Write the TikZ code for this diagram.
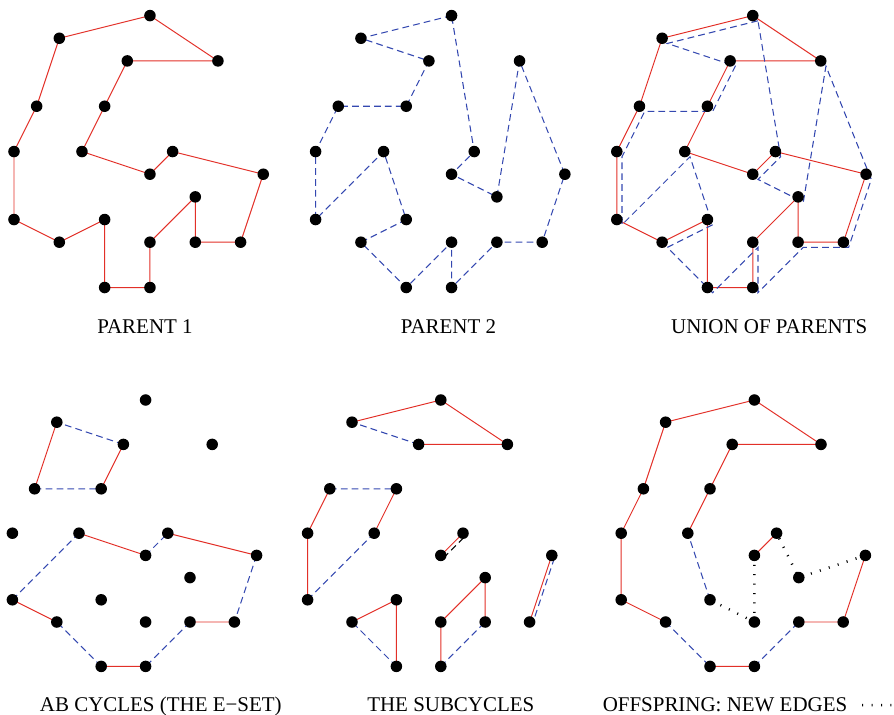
\documentclass[tikz,border=0pt]{standalone}
\usepackage{fontspec}
\setmainfont{Liberation Serif}
\usetikzlibrary{calc}
\def\point{4.1pt}
\definecolor{tourred}{RGB}{226,48,40}
\definecolor{tourblue}{RGB}{52,72,176}
\tikzset{
  parentA/.style={tourred, line width=0.7pt},
  parentB/.style={tourblue, line width=0.75pt, dash pattern=on 4.8pt off 3pt},
  newedge/.style={black, line width=1.8pt, dash pattern=on 0.7pt off 6pt},
  caption/.style={font=\fontsize{14.9}{18}\selectfont, anchor=base},
  top/.style={x=0.5665cm, y=-0.5665cm},
  bottom/.style={x=0.555cm, y=-0.555cm}
}
\def\setcities{
    \coordinate (a) at (6,0);
    \coordinate (b) at (2,1);
    \coordinate (c) at (9,2);
    \coordinate (d) at (5,2);
    \coordinate (e) at (1,4);
    \coordinate (f) at (4,4);
    \coordinate (g) at (0,6);
    \coordinate (h) at (3,6);
    \coordinate (i) at (6,7);
    \coordinate (j) at (7,6);
    \coordinate (k) at (11,7);
    \coordinate (l) at (8,8);
    \coordinate (m) at (0,9);
    \coordinate (n) at (4,9);
    \coordinate (o) at (2,10);
    \coordinate (p) at (6,10);
    \coordinate (q) at (8,10);
    \coordinate (r) at (10,10);
    \coordinate (s) at (4,12);
    \coordinate (t) at (6,12);
}
\def\fillcities{\foreach \city in {a,...,t} \fill (\city) circle (\point);}

\begin{document}
\begin{tikzpicture}
    \useasboundingbox (0,0) rectangle (22.35,-17.875);

    % parent 1
    \begin{scope}[shift={(0.35,-0.39)}, top, name prefix=pa-]
    \setcities
    \draw [parentA] (b) -- (a) -- (c) -- (d) -- (f) -- (h) -- (i) -- (j) -- (k) -- (r)
        -- (q) -- (l) -- (p) -- (t) -- (s) -- (n) -- (o) -- (m) -- (g) -- (e) -- cycle;
    \fillcities
    \end{scope}

    % parent 2
    \begin{scope}[shift={(7.89,-0.39)}, top, name prefix=pb-]
    \setcities
    \draw [parentB] (a) -- (b) -- (d) -- (f) -- (e) -- (g) -- (m) -- (h) -- (n) -- (o)
        -- (s) -- (p) -- (t) -- (q) -- (r) -- (k) -- (c) -- (l) -- (i) -- (j) -- cycle;
    \fillcities
    \end{scope}

    % union of parents
    \begin{scope}[shift={(15.42,-0.39)}, top, name prefix=pu-]
    \setcities
    \draw [parentA] (b) -- (a) -- (c) -- (d) -- (f) -- (h) -- (i) -- (j) -- (k) -- (r)
        -- (q) -- (l) -- (p) -- (t) -- (s) -- (n) -- (o) -- (m) -- (g) -- (e) -- cycle;
    \draw [parentB, transform canvas={xshift=0.13cm, yshift=-0.13cm}]
        (a) -- (b) -- (d) -- (f) -- (e) -- (g) -- (m) -- (h) -- (n) -- (o)
        -- (s) -- (p) -- (t) -- (q) -- (r) -- (k) -- (c) -- (l) -- (i) -- (j) -- cycle;
    \fillcities
    \end{scope}

    % AB cycles
    \begin{scope}[shift={(0.31,-10)}, bottom, name prefix=ab-]
    \setcities
    \draw [parentA] (b) -- (e) (f) -- (d) (h) -- (i) (j) -- (k) (r) -- (q) (t) -- (s) (o) -- (m);
    \draw [parentB] (e) -- (f) (d) -- (b) (i) -- (j) (k) -- (r) (q) -- (t) (s) -- (o) (m) -- (h);
    \fillcities
    \end{scope}

    % subcycles
    \begin{scope}[shift={(7.69,-10)}, bottom, name prefix=sc-]
    \setcities
    \draw [parentA] (b) -- (a) -- (c) -- (d);
    \draw [parentA] (h) -- (f) (e) -- (g) -- (m) (i) -- (j) (k) -- (r);
    \draw [parentA] (o) -- (n) -- (s) (t) -- (p) -- (l) -- (q);
    \draw [parentB] (d) -- (b) (e) -- (f) (m) -- (h) (s) -- (o) (t) -- (q);
    \draw [parentB, transform canvas={xshift=0.065cm, yshift=-0.065cm}] (k) -- (r);
    \draw [parentB, black, transform canvas={xshift=0.065cm, yshift=-0.065cm}] (i) -- (j);
    \fillcities
    \end{scope}

    % offspring
    \begin{scope}[shift={(15.53,-10)}, bottom, name prefix=os-]
    \setcities
    \draw [parentA] (h) -- (f) -- (d) -- (c) -- (a) -- (b) -- (e) -- (g) -- (m) -- (o);
    \draw [parentA] (s) -- (t) (q) -- (r) -- (k) (j) -- (i);
    \draw [parentB] (o) -- (s) (t) -- (q) (n) -- (h);
    \draw [newedge] (k) -- (l) -- (j) (i) -- (p) -- (n);
    \fillcities
    \end{scope}

    \node [caption] (parent1) at (3.625,-8.325) {PARENT 1};
    \node [caption] (parent2) at (11.21,-8.325) {PARENT 2};
    \node [caption] (union) at (19.23,-8.325) {UNION OF PARENTS};
    \node [caption] (abcycles) at (4.02,-17.79) {AB CYCLES (THE E−SET)};
    \node [caption] (subcycles) at (11.27,-17.79) {THE SUBCYCLES};
    \node [caption] (offspring) at (18.125,-17.79) {OFFSPRING: NEW EDGES};
    \coordinate (legend end) at (22.35,-17.63);
    \draw [newedge] ([xshift=0.25cm, yshift=0.16cm]offspring.base east) -- (legend end);
\end{tikzpicture}
\end{document}
